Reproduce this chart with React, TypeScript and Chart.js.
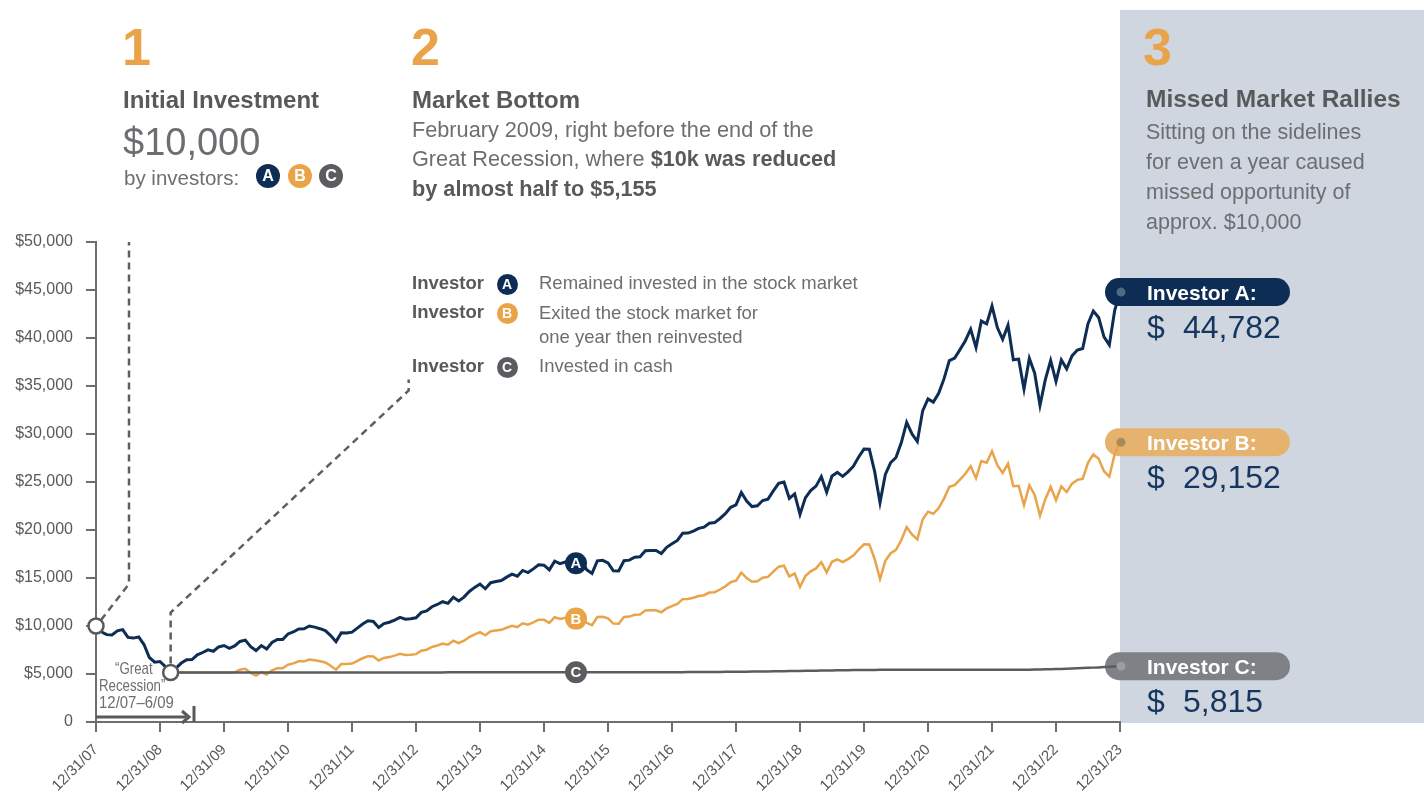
import React, { useEffect, useRef } from "react";
import { Chart, registerables } from "chart.js";

Chart.register(...registerables);

// ---------- DATA ----------
const yearLabels = [
  "12/31/07", "12/31/08", "12/31/09", "12/31/10", "12/31/11", "12/31/12",
  "12/31/13", "12/31/14", "12/31/15", "12/31/16", "12/31/17", "12/31/18",
  "12/31/19", "12/31/20", "12/31/21", "12/31/22", "12/31/23",
];

const yTicks = [0, 5000, 10000, 15000, 20000, 25000, 30000, 35000, 40000, 45000, 50000];

// Investor A: remained invested (monthly, 12/07 .. 12/23)
const investorA = [
  10000,
  9400, 9100, 9060, 9500, 9620, 8810, 8740, 8860, 8070, 6720, 6230, 6300,
  5770, 5155, 5610, 6140, 6490, 6500, 6990, 7240, 7510, 7370, 7820, 7970,
  7680, 7920, 8390, 8530, 7850, 7440, 7960, 7600, 8280, 8590, 8590, 9170,
  9380, 9700, 9710, 10000, 9880, 9720, 9520, 9000, 8370, 9290, 9270, 9360,
  9780, 10200, 10540, 10470, 9840, 10250, 10390, 10620, 10900, 10700, 10760, 10860,
  11420, 11570, 12010, 12240, 12530, 12360, 12990, 12610, 13010, 13600, 14020, 14370,
  13880, 14510, 14630, 14740, 15090, 15400, 15190, 15790, 15570, 15950, 16380, 16340,
  15850, 16760, 16500, 16660, 16870, 16540, 16890, 15870, 15480, 16790, 16840, 16570,
  15750, 15730, 16800, 16860, 17160, 17210, 17840, 17870, 17870, 17550, 18200, 18560,
  18910, 19660, 19680, 19890, 20170, 20290, 20710, 20770, 21200, 21700, 22360, 22610,
  23900, 23020, 22440, 22520, 23070, 23210, 24070, 24860, 25000, 23290, 23760, 21620,
  23350, 24100, 24570, 25560, 23940, 25630, 26000, 25580, 26060, 26630, 27600, 28430,
  28420, 26080, 22860, 25790, 27010, 27550, 29110, 31200, 30010, 29220, 32410, 33660,
  33320, 34240, 35740, 37650, 37910, 38790, 39720, 40920, 39020, 41760, 41470, 43330,
  41090, 39860, 41340, 37730, 37800, 34680, 37880, 36330, 32990, 35660, 37650, 35490,
  37710, 36790, 38140, 38740, 38910, 41480, 42810, 42130, 40120, 39280, 42860, 44782,
];

// Investor B: exited at the Feb 2009 bottom for one year, then reinvested
const investorB = [
  null,
  null, null, null, null, null, null, null, null, null, null, null, null,
  null, 5155, 5155, 5155, 5155, 5155, 5155, 5155, 5155, 5155, 5155, 5155,
  5155, 5160, 5460, 5550, 5110, 4840, 5180, 4950, 5390, 5590, 5590, 5970,
  6110, 6320, 6320, 6510, 6430, 6330, 6200, 5860, 5450, 6050, 6040, 6090,
  6370, 6640, 6860, 6820, 6410, 6670, 6760, 6910, 7100, 6970, 7010, 7070,
  7430, 7530, 7820, 7970, 8160, 8050, 8460, 8210, 8470, 8850, 9130, 9360,
  9040, 9450, 9520, 9600, 9820, 10030, 9890, 10280, 10140, 10380, 10660, 10640,
  10320, 10910, 10740, 10850, 10980, 10770, 11000, 10330, 10080, 10930, 10960, 10790,
  10250, 10240, 10940, 10980, 11170, 11200, 11610, 11630, 11630, 11430, 11850, 12080,
  12310, 12800, 12810, 12950, 13130, 13210, 13480, 13520, 13800, 14130, 14560, 14720,
  15560, 14990, 14610, 14660, 15020, 15110, 15670, 16180, 16280, 15160, 15470, 14070,
  15200, 15690, 16000, 16640, 15580, 16690, 16930, 16650, 16970, 17340, 17970, 18510,
  18500, 16980, 14880, 16790, 17580, 17930, 18950, 20310, 19540, 19020, 21100, 21910,
  21690, 22290, 23270, 24510, 24680, 25250, 25860, 26640, 25400, 27190, 27000, 28210,
  26750, 25950, 26910, 24560, 24610, 22580, 24660, 23650, 21480, 23210, 24510, 23100,
  24550, 23950, 24830, 25220, 25330, 27000, 27870, 27430, 26120, 25570, 27900, 29152,
];

// Investor C: moved to cash at the Feb 2009 bottom
const investorC = [
  null,
  null, null, null, null, null, null, null, null, null, null, null, null,
  null, 5155, 5155, 5156, 5156, 5157, 5157, 5157, 5158, 5158, 5158, 5159,
  5159, 5159, 5160, 5160, 5160, 5161, 5161, 5161, 5162, 5162, 5162, 5163,
  5163, 5163, 5163, 5164, 5164, 5164, 5164, 5165, 5165, 5165, 5165, 5165,
  5166, 5166, 5166, 5166, 5167, 5167, 5167, 5167, 5168, 5168, 5168, 5168,
  5169, 5169, 5169, 5169, 5169, 5170, 5170, 5170, 5170, 5170, 5171, 5171,
  5171, 5171, 5171, 5171, 5172, 5172, 5172, 5172, 5172, 5172, 5173, 5173,
  5173, 5173, 5173, 5173, 5174, 5174, 5174, 5174, 5174, 5175, 5175, 5176,
  5177, 5178, 5179, 5180, 5181, 5182, 5183, 5184, 5185, 5186, 5187, 5189,
  5191, 5193, 5196, 5199, 5202, 5206, 5210, 5214, 5218, 5222, 5226, 5231,
  5236, 5242, 5248, 5255, 5262, 5269, 5277, 5285, 5293, 5301, 5310, 5319,
  5328, 5337, 5346, 5356, 5365, 5374, 5383, 5392, 5400, 5407, 5413, 5419,
  5424, 5428, 5431, 5432, 5432, 5433, 5433, 5433, 5434, 5434, 5434, 5434,
  5434, 5434, 5435, 5435, 5435, 5435, 5435, 5435, 5435, 5435, 5435, 5436,
  5436, 5437, 5438, 5440, 5443, 5447, 5453, 5461, 5471, 5483, 5497, 5512,
  5531, 5551, 5572, 5594, 5617, 5640, 5664, 5689, 5718, 5750, 5782, 5815,
];

const seriesNames = ["Investor A:", "Investor B:", "Investor C:"];
const bottomMonth = 14; // Feb 2009 market bottom
const recessionEndMonth = 18; // 6/09
const markerMonth = 90; // where the A/B/C badges sit

// ---------- STYLE ----------
const FONT = '"Liberation Sans", Arial, Helvetica, sans-serif';
const NAVY = "#0d2d54";
const ORANGE = "#e9a44a";
const GRAY = "#5b5c60";
const TEXT = "#6d6e71";
const HEAD = "#58595b";
const PANEL = "#d0d6e0";

const PILL_COLORS = [NAVY, "#e6b36f", "#7e8186"];
const DOT_COLORS = ["#4d6b84", "#a88b57", "#9a9da3"];

const lastValues = () => [investorA, investorB, investorC].map((a) => a[a.length - 1] as number);

const annotationPlugin = {
  id: "annotations",
  beforeDatasetsDraw(chart: any) {
    const ctx: CanvasRenderingContext2D = chart.ctx;
    const ys = chart.scales.y;
    const ca = chart.chartArea;
    ctx.save();
    lastValues().forEach((v, i) => {
      const y = ys.getPixelForValue(v);
      const x0 = ca.right - 15;
      const x1 = ca.right + 170;
      const h = 28;
      ctx.beginPath();
      ctx.moveTo(x0 + h / 2, y - h / 2);
      ctx.lineTo(x1 - h / 2, y - h / 2);
      ctx.arc(x1 - h / 2, y, h / 2, -Math.PI / 2, Math.PI / 2);
      ctx.lineTo(x0 + h / 2, y + h / 2);
      ctx.arc(x0 + h / 2, y, h / 2, Math.PI / 2, Math.PI * 1.5);
      ctx.closePath();
      ctx.fillStyle = PILL_COLORS[i];
      ctx.fill();
    });
    ctx.restore();
  },
  afterDatasetsDraw(chart: any) {
    const ctx: CanvasRenderingContext2D = chart.ctx;
    const xs = chart.scales.x;
    const ys = chart.scales.y;
    const ca = chart.chartArea;
    const px = (m: number) => xs.getPixelForValue(m);
    const py = (v: number) => ys.getPixelForValue(v);
    ctx.save();

    // recession arrow
    const y0 = py(0);
    const xr0 = px(0);
    const xr1 = px(recessionEndMonth);
    ctx.strokeStyle = HEAD;
    ctx.fillStyle = HEAD;
    ctx.lineWidth = 3;
    ctx.beginPath();
    ctx.moveTo(xr0, y0 - 5);
    ctx.lineTo(xr1 - 6, y0 - 5);
    ctx.stroke();
    ctx.beginPath();
    ctx.moveTo(xr1 - 10, y0 - 11);
    ctx.lineTo(xr1 - 3, y0 - 5);
    ctx.lineTo(xr1 - 10, y0 + 1);
    ctx.stroke();
    ctx.beginPath();
    ctx.moveTo(xr1 + 2, y0 - 16);
    ctx.lineTo(xr1 + 2, y0);
    ctx.stroke();

    // dashed call-out lines
    ctx.setLineDash([7, 5]);
    ctx.lineWidth = 2.5;
    ctx.strokeStyle = "#5e5f62";
    const s = { x: px(0), y: py(investorA[0]) };
    ctx.beginPath();
    ctx.moveTo(s.x + 5, s.y - 6);
    ctx.lineTo(s.x + 33, s.y - 42);
    ctx.lineTo(s.x + 33, ca.top);
    ctx.stroke();
    const b = { x: px(bottomMonth), y: py(investorA[bottomMonth]) };
    ctx.beginPath();
    ctx.moveTo(b.x, b.y - 9);
    ctx.lineTo(b.x, b.y - 60);
    ctx.lineTo(b.x + 238, b.y - 282);
    ctx.lineTo(b.x + 238, b.y - 293);
    ctx.stroke();
    ctx.setLineDash([]);

    // hollow circles
    [s, b].forEach((p) => {
      ctx.beginPath();
      ctx.arc(p.x, p.y, 7.5, 0, Math.PI * 2);
      ctx.fillStyle = "#ffffff";
      ctx.fill();
      ctx.lineWidth = 2.5;
      ctx.strokeStyle = HEAD;
      ctx.stroke();
    });

    // A / B / C badges on the lines
    const badge = [
      { v: investorA[markerMonth], c: NAVY, t: "A" },
      { v: investorB[markerMonth] as number, c: ORANGE, t: "B" },
      { v: investorC[markerMonth] as number, c: GRAY, t: "C" },
    ];
    badge.forEach((bd) => {
      const x = px(markerMonth);
      const y = py(bd.v);
      ctx.beginPath();
      ctx.arc(x, y, 11, 0, Math.PI * 2);
      ctx.fillStyle = bd.c;
      ctx.fill();
      ctx.fillStyle = "#fff";
      ctx.font = `bold 15px ${FONT}`;
      ctx.textAlign = "center";
      ctx.textBaseline = "middle";
      ctx.fillText(bd.t, x, y + 1);
    });

    // end-value dots and labels
    lastValues().forEach((v, i) => {
      const y = py(v);
      ctx.beginPath();
      ctx.arc(ca.right + 1, y, 4.5, 0, Math.PI * 2);
      ctx.fillStyle = DOT_COLORS[i];
      ctx.fill();
      ctx.fillStyle = "#ffffff";
      ctx.font = `bold 21px ${FONT}`;
      ctx.textAlign = "left";
      ctx.textBaseline = "alphabetic";
      ctx.fillText(seriesNames[i], ca.right + 27, y + 8);
      ctx.fillStyle = "#15365f";
      ctx.font = `32px ${FONT}`;
      ctx.fillText("$", ca.right + 27, y + 46);
      ctx.fillText(v.toLocaleString("en-US"), ca.right + 63, y + 46);
    });

    ctx.restore();
  },
};

// ---------- TEXT HELPERS ----------
type TProps = {
  x: number;
  b: number;
  fs: number;
  w?: number;
  c?: string;
  lh?: number;
  style?: React.CSSProperties;
  children?: React.ReactNode;
};
const T = ({ x, b, fs, w = 400, c = TEXT, lh, style, children }: TProps) => {
  const L = lh ?? fs;
  const top = b - ((L - 1.117 * fs) / 2 + 0.905 * fs);
  return (
    <div
      style={{
        position: "absolute",
        left: x,
        top,
        fontSize: fs,
        lineHeight: `${L}px`,
        fontWeight: w,
        color: c,
        whiteSpace: "nowrap",
        ...style,
      }}
    >
      {children}
    </div>
  );
};

const Badge = ({ cx, cy, r, bg, t }: { cx: number; cy: number; r: number; bg: string; t: string }) => (
  <div
    style={{
      position: "absolute",
      left: cx - r,
      top: cy - r,
      width: 2 * r,
      height: 2 * r,
      borderRadius: "50%",
      background: bg,
      color: "#fff",
      fontWeight: 700,
      fontSize: Math.round(r * 1.35),
      lineHeight: `${2 * r}px`,
      textAlign: "center",
    }}
  >
    {t}
  </div>
);

export default function App() {
  const ref = useRef<HTMLCanvasElement>(null);

  useEffect(() => {
    if (!ref.current) return;
    const months = investorA.map((_, i) => i);
    const chart = new Chart(ref.current, {
      type: "line",
      data: {
        labels: months,
        datasets: [
          { label: "Investor A", data: investorA, borderColor: NAVY, borderWidth: 3, pointRadius: 0, tension: 0 },
          { label: "Investor C", data: investorC, borderColor: GRAY, borderWidth: 2.5, pointRadius: 0, tension: 0 },
          { label: "Investor B", data: investorB, borderColor: ORANGE, borderWidth: 2.5, pointRadius: 0, tension: 0 },
        ],
      },
      options: {
        responsive: false,
        animation: false,
        devicePixelRatio: 1,
        layout: { padding: { top: 242, right: 304, bottom: 0, left: 0 } },
        plugins: { legend: { display: false }, tooltip: { enabled: false } },
        scales: {
          x: {
            type: "linear",
            min: 0,
            max: 192,
            afterFit: (s: any) => {
              s.height = 74;
            },
            border: { display: true, color: "#6d6e71", width: 2 },
            grid: { display: true, drawOnChartArea: false, drawTicks: true, tickLength: 10, color: "#6d6e71", lineWidth: 2 },
            ticks: {
              stepSize: 12,
              maxTicksLimit: 40,
              autoSkip: false,
              maxRotation: 45,
              minRotation: 45,
              padding: 9,
              color: HEAD,
              font: { family: FONT, size: 15 },
              callback: (v: any) => yearLabels[Math.round(Number(v) / 12)] ?? "",
            },
          },
          y: {
            min: 0,
            max: 50000,
            afterFit: (s: any) => {
              s.width = 96;
            },
            border: { display: true, color: "#6d6e71", width: 2 },
            grid: { display: true, drawOnChartArea: false, drawTicks: true, tickLength: 10, color: "#6d6e71", lineWidth: 2 },
            afterBuildTicks: (s: any) => {
              s.ticks = yTicks.map((v) => ({ value: v }));
            },
            ticks: {
              padding: 13,
              color: HEAD,
              font: { family: FONT, size: 16 },
              callback: (v: any) => (Number(v) === 0 ? "0" : "$" + Number(v).toLocaleString("en-US")),
            },
          },
        },
      },
      plugins: [annotationPlugin],
    } as any);
    return () => chart.destroy();
  }, []);

  return (
    <div
      style={{
        position: "absolute",
        left: 0,
        top: 0,
        width: 1424,
        height: 796,
        overflow: "hidden",
        background: "#ffffff",
        fontFamily: FONT,
      }}
    >
      <div style={{ position: "absolute", left: 1120, top: 10, width: 304, height: 713, background: PANEL }} />
      <canvas
        ref={ref}
        width={1424}
        height={796}
        style={{ position: "absolute", left: 0, top: 0, width: 1424, height: 796 }}
      />

      {/* Section 1 */}
      <T x={122} b={65} fs={52} w={700} c={ORANGE}>1</T>
      <T x={123} b={108} fs={24} w={700} c={HEAD}>Initial Investment</T>
      <T x={123} b={155} fs={38} c={TEXT}>$10,000</T>
      <T x={124} b={185} fs={20.5} c={TEXT}>by investors:</T>
      <Badge cx={268} cy={176} r={12} bg={NAVY} t="A" />
      <Badge cx={300} cy={176} r={12} bg={ORANGE} t="B" />
      <Badge cx={331} cy={176} r={12} bg={GRAY} t="C" />

      {/* Section 2 */}
      <T x={411} b={65} fs={52} w={700} c={ORANGE}>2</T>
      <T x={412} b={108} fs={24} w={700} c={HEAD}>Market Bottom</T>
      <T x={412} b={137} fs={21.7} lh={29.5} c={TEXT}>
        February 2009, right before the end of the
        <br />
        Great Recession, where <b style={{ color: HEAD }}>$10k was reduced</b>
        <br />
        <b style={{ color: HEAD }}>by almost half to $5,155</b>
      </T>

      {/* Section 3 */}
      <T x={1143} b={65} fs={52} w={700} c={ORANGE}>3</T>
      <T x={1146} b={108} fs={24.5} w={700} c={HEAD}>Missed Market Rallies</T>
      <T x={1146} b={139} fs={21.5} lh={30} c={TEXT}>
        Sitting on the sidelines
        <br />
        for even a year caused
        <br />
        missed opportunity of
        <br />
        approx. $10,000
      </T>

      {/* Legend */}
      <T x={412} b={290} fs={18.5} w={700} c={HEAD}>Investor</T>
      <T x={412} b={319} fs={18.5} w={700} c={HEAD}>Investor</T>
      <T x={412} b={373} fs={18.5} w={700} c={HEAD}>Investor</T>
      <Badge cx={507} cy={284} r={10.5} bg={NAVY} t="A" />
      <Badge cx={507} cy={313} r={10.5} bg={ORANGE} t="B" />
      <Badge cx={507} cy={367} r={10.5} bg={GRAY} t="C" />
      <T x={539} b={290} fs={18.5} c={TEXT}>Remained invested in the stock market</T>
      <T x={539} b={319} fs={18.5} lh={24} c={TEXT}>
        Exited the stock market for
        <br />
        one year then reinvested
      </T>
      <T x={539} b={373} fs={18.5} c={TEXT}>Invested in cash</T>

      {/* Great Recession note */}
      <T x={115} b={674} fs={17} c={TEXT} style={{ transform: "scaleX(0.78)", transformOrigin: "left" }}>“Great</T>
      <T x={99} b={691} fs={17} c={TEXT} style={{ transform: "scaleX(0.78)", transformOrigin: "left" }}>Recession”</T>
      <T x={99} b={708} fs={17} c={TEXT} style={{ transform: "scaleX(0.88)", transformOrigin: "left" }}>12/07–6/09</T>
    </div>
  );
}
